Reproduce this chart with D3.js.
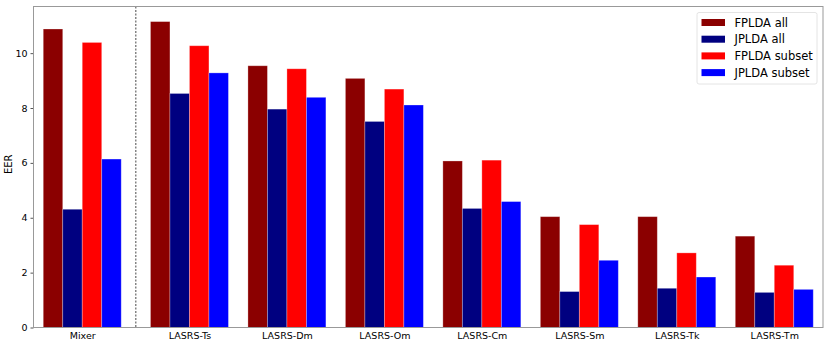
<!DOCTYPE html>
<html>
<head>
<meta charset="utf-8">
<script src="https://cdn.jsdelivr.net/npm/d3@7"></script>
<style>
  body { margin: 0; background: #fff; }
  text { font-family: "DejaVu Sans", sans-serif; }
</style>
</head>
<body>
<div id="chart"></div>
<script>
// --- Data ---
var categories = ["Mixer", "LASRS-Ts", "LASRS-Dm", "LASRS-Om", "LASRS-Cm", "LASRS-Sm", "LASRS-Tk", "LASRS-Tm"];
var groupPos = [0, 1.1, 2.1, 3.1, 4.1, 5.1, 6.1, 7.1];
var seriesNames = ["FPLDA all", "JPLDA all", "FPLDA subset", "JPLDA subset"];
var fpldaAll    = [10.88, 11.15, 9.54, 9.08, 6.07, 4.04, 4.04, 3.33];
var jpldaAll    = [4.31, 8.53, 7.96, 7.51, 4.34, 1.31, 1.43, 1.28];
var fpldaSubset = [10.39, 10.27, 9.43, 8.69, 6.10, 3.75, 2.72, 2.27];
var jpldaSubset = [6.14, 9.28, 8.39, 8.11, 4.59, 2.45, 1.84, 1.39];
var yTicks = [0, 2, 4, 6, 8, 10];
var seriesColors = ["#8b0000", "#000080", "#ff0000", "#0000ff"];

var allSeries = [fpldaAll, jpldaAll, fpldaSubset, jpldaSubset];

var w = 830, h = 346;
var margin = { top: 6.5, right: 7, bottom: 18.5, left: 33.5 };
var width = w - margin.left - margin.right;
var height = h - margin.top - margin.bottom;

var svg = d3.select("#chart").append("svg")
    .attr("width", w)
    .attr("height", h)
    .append("g")
    .attr("transform", `translate(${margin.left},${margin.top})`);

var barW = 0.2;

var xScale = d3.scaleLinear()
    .domain([-0.5, 7.6])
    .range([0, width]);

var yScale = d3.scaleLinear()
    .domain([0, 11.7])
    .range([height, 0]);

// --- Bars ---
allSeries.forEach(function (vals, s) {
    svg.append("g")
        .attr("fill", seriesColors[s])
        .selectAll("rect")
        .data(vals)
        .enter().append("rect")
        .attr("x", (d, i) => xScale(groupPos[i] + (s - 2) * barW))
        .attr("y", d => yScale(d))
        .attr("width", xScale(barW) - xScale(0))
        .attr("height", d => yScale(0) - yScale(d))
        .attr("stroke", "rgba(255,255,255,0.35)")
        .attr("stroke-width", 0.8);
});

// dashed separator
svg.append("line")
    .attr("x1", xScale(0.55)).attr("x2", xScale(0.55))
    .attr("y1", 0).attr("y2", height)
    .attr("stroke", "#333")
    .attr("stroke-width", 0.9)
    .attr("stroke-dasharray", "2,1.5");

// --- Axes ---
var xAxis = svg.append("g")
    .attr("transform", `translate(0,${height})`)
    .call(d3.axisBottom(xScale).tickValues(groupPos).tickFormat((d, i) => categories[i]).tickSize(0).tickPadding(5));
xAxis.select(".domain").remove();
xAxis.selectAll("text").style("font-size", "9.5px").attr("fill", "#000");

var yAxis = svg.append("g")
    .call(d3.axisLeft(yScale).tickValues(yTicks).tickSize(3).tickPadding(3));
yAxis.select(".domain").remove();
yAxis.selectAll("line").attr("stroke", "#555");
yAxis.selectAll("text").style("font-size", "9.5px").attr("fill", "#000");

// frame
svg.append("rect")
    .attr("x", 0).attr("y", 0)
    .attr("width", width).attr("height", height)
    .attr("fill", "none")
    .attr("stroke", "#999")
    .attr("stroke-width", 1);

svg.append("text")
    .attr("transform", "rotate(-90)")
    .attr("x", -yScale(5.95))
    .attr("y", -22)
    .style("text-anchor", "middle")
    .style("font-size", "10px")
    .text("EER");

// --- Legend ---
var legend = svg.append("g")
    .attr("transform", `translate(${697 - margin.left},${12.5 - margin.top})`);

legend.append("rect")
    .attr("width", 120).attr("height", 71.5)
    .attr("rx", 2)
    .attr("fill", "#fff")
    .attr("stroke", "#ddd")
    .attr("stroke-width", 0.8);

var legendItem = legend.selectAll(".legend-item")
    .data(seriesNames)
    .enter().append("g")
    .attr("transform", (d, i) => `translate(0,${10 + i * 16.7})`);

legendItem.append("rect")
    .attr("x", 4.5).attr("y", -3.5)
    .attr("width", 23.5).attr("height", 7)
    .attr("fill", (d, i) => seriesColors[i]);

legendItem.append("text")
    .attr("x", 37.5)
    .attr("y", 4.2)
    .style("font-size", "11.5px")
    .text(d => d);
</script>
</body>
</html>
